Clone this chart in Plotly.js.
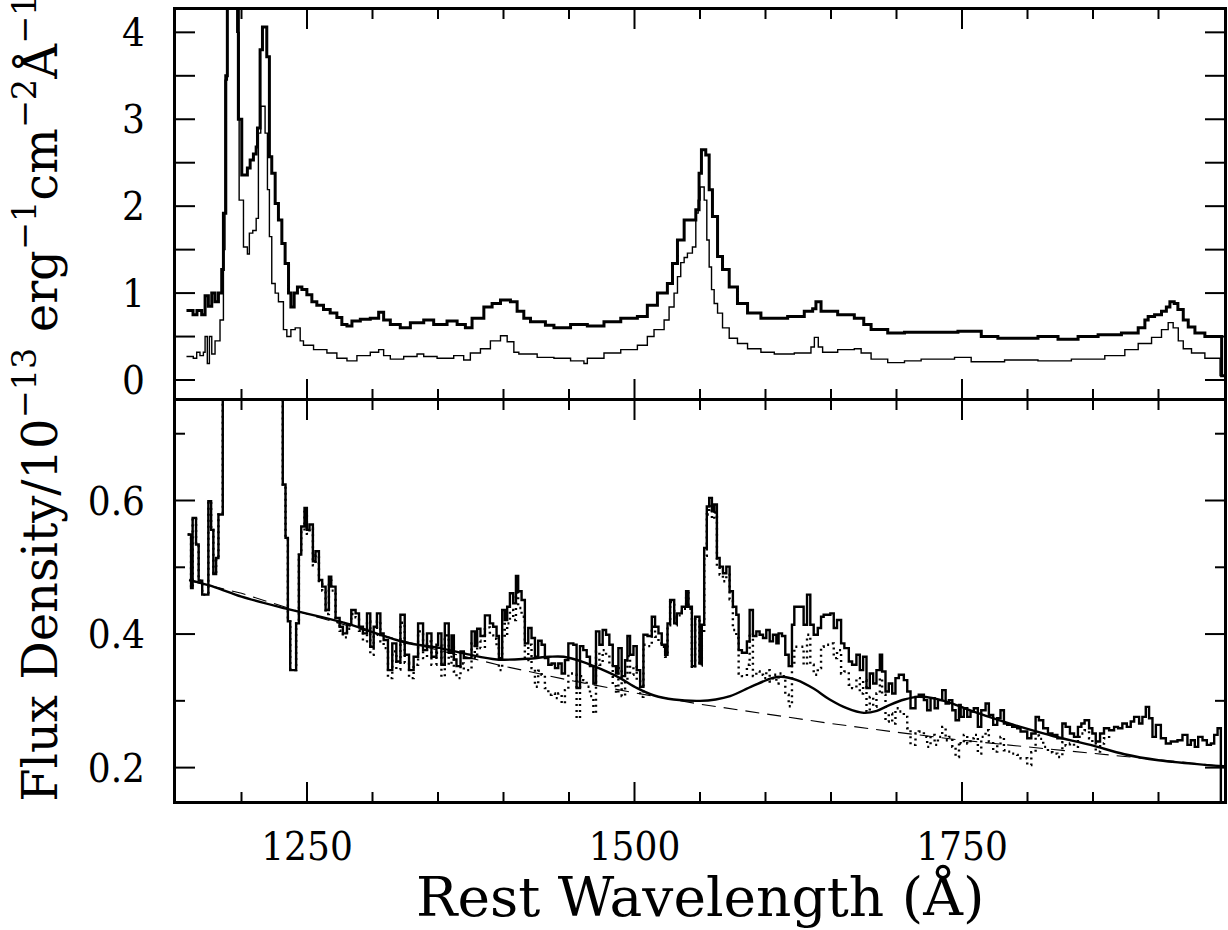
<!DOCTYPE html>
<html><head><meta charset="utf-8">
<script src="https://cdn.plot.ly/plotly-3.0.1.min.js"></script>
<style>body{margin:0;background:#fff}#plot{width:1228px;height:930px}</style>
</head><body><div id="plot"></div>
<script>
// ---- Top panel: total spectrum (thick) ----
const lamTopA = [1158,1163,1166,1169.6,1172.2,1174.7,1177.3,1179.8,1182.4,1184.9,1186.2,1188,1189.2,1197.6,1200.2,1204.5,1206.6,1209.1,1211.2,1212.2,1214.2,1216,1219.3,1221.3,1223.1,1225.7,1228.2,1230.8,1233.3,1235.9,1237.7,1240.2,1242.7,1246.1,1249.9,1253.7,1257.5,1262.6,1267.7,1272.8,1276.6,1280.5,1284.3,1290.7,1298.3,1304.7,1308.5,1313.6,1321.2,1328.9,1339.1,1346.7,1356.9,1364.6,1370.9,1376,1385,1391.3,1397.7,1405.3,1410.4,1415.5,1420.6,1432,1438.5,1451.2,1464,1476.7,1489.5,1502.2,1509.8,1517.5,1525.1,1529,1532.8,1537.9,1543,1546.8,1549.3,1551.1,1554.4,1557,1559.5,1563.4,1567.2,1572.3,1578.6,1586.3,1596.5,1606.7,1616.9,1629.6,1636,1638.5,1642.4,1655.1,1667.8,1675,1680.6,1693.3,1706.1,1731.6,1746.9,1764.7,1777.4,1795.3,1808,1823.3,1838.6,1853.9,1871.7,1884.5,1889.6,1892.1,1897,1902.3,1906,1908.7,1912,1914.8,1918.9,1922.7,1927.8,1935.4,1948.2,1952];
const fluxTopA = [0.80,0.75,0.80,0.75,0.97,0.85,1.00,0.90,1.00,1.27,1.92,3.5,5.0,3.0,2.36,2.44,2.53,2.60,2.68,2.90,3.80,4.06,3.72,2.57,2.38,2.03,1.84,1.57,1.34,1.00,0.84,1.00,1.07,1.04,0.98,0.90,0.86,0.81,0.77,0.72,0.64,0.62,0.68,0.70,0.71,0.78,0.69,0.64,0.60,0.66,0.69,0.64,0.68,0.64,0.60,0.71,0.84,0.88,0.92,0.90,0.79,0.71,0.67,0.63,0.60,0.64,0.62,0.67,0.71,0.73,0.86,1.00,1.11,1.34,1.61,1.84,1.84,1.96,2.38,2.65,2.59,2.19,1.88,1.42,1.27,1.07,0.88,0.77,0.71,0.71,0.73,0.79,0.82,0.90,0.79,0.75,0.71,0.64,0.58,0.54,0.55,0.55,0.56,0.50,0.48,0.48,0.50,0.47,0.50,0.52,0.54,0.60,0.69,0.73,0.75,0.79,0.84,0.90,0.88,0.81,0.69,0.61,0.54,0.50,0.05,0.05];

// ---- Top panel: second spectrum (thin) ----
const lamTopB = [1158,1163.2,1165.8,1168.3,1170.9,1172.2,1173.9,1175.5,1177.3,1179.8,1183.6,1186.2,1187.4,1189.2,1196.4,1198.2,1201.5,1204.5,1206,1208.6,1211.2,1212.9,1214.7,1218,1219.8,1221.3,1223.1,1225.7,1228.2,1232,1234.6,1237.7,1241,1244.8,1247.3,1255,1265.2,1272.8,1280.5,1288.1,1298.3,1304.7,1308.5,1313.6,1323.8,1334,1339.1,1349.3,1362,1369.6,1374.7,1382.4,1390,1397.7,1402.8,1407.9,1411.7,1425.7,1438.5,1451.2,1461.4,1464,1476.7,1489.5,1502.2,1509.8,1514.9,1522.6,1526.4,1530.2,1532.8,1535.3,1537.9,1540.4,1544.2,1546.8,1548.6,1550.1,1553.2,1555.2,1557,1558.8,1560.8,1563.4,1567.2,1572.3,1578.6,1586.3,1596.5,1606.7,1622,1634.7,1637.3,1640.3,1643.6,1655.1,1667.8,1673,1680.6,1693.3,1706.1,1718.8,1744.3,1757,1782.5,1808,1833.5,1859,1874.3,1884.5,1894.7,1902.3,1907.4,1911.2,1915.1,1918.9,1925.2,1935.4,1947,1952];
const fluxTopB = [0.27,0.25,0.32,0.28,0.32,0.50,0.19,0.50,0.30,0.45,0.69,1.5,3.45,5.0,4.0,2.07,1.53,1.45,1.69,1.72,1.86,2.84,3.15,2.84,2.19,1.65,1.11,1.00,0.90,0.58,0.50,0.58,0.60,0.45,0.40,0.35,0.31,0.25,0.22,0.28,0.32,0.35,0.28,0.24,0.27,0.30,0.27,0.25,0.28,0.23,0.31,0.36,0.45,0.51,0.44,0.32,0.30,0.26,0.25,0.22,0.19,0.25,0.31,0.35,0.40,0.50,0.58,0.69,0.84,1.00,1.19,1.35,1.41,1.46,1.53,1.92,2.07,2.22,2.07,1.61,1.30,1.04,0.88,0.77,0.60,0.48,0.42,0.36,0.32,0.30,0.31,0.38,0.49,0.38,0.32,0.35,0.36,0.31,0.24,0.20,0.22,0.24,0.26,0.21,0.23,0.22,0.24,0.28,0.35,0.42,0.49,0.58,0.66,0.60,0.45,0.36,0.31,0.25,0.05,0.05];

// ---- Bottom panel: residual spectrum (solid histogram) ----
const lamBot = [1158.9,1161.5,1162.7,1165.3,1167.3,1170.0,1174.7,1176.8,1178.5,1180.6,1182.4,1185.7,1231.5,1233.6,1235.4,1237.2,1241.7,1243.8,1245.6,1248.1,1249.9,1251.9,1254.5,1256.5,1259.1,1261.6,1264.2,1266.7,1268.5,1271.8,1274.9,1277.4,1280.5,1283.8,1287.1,1289.7,1292.7,1295.8,1298.3,1300.9,1303.4,1306.0,1308.5,1311.8,1315.1,1318.2,1321.3,1324.6,1327.9,1331.4,1334.8,1338.6,1341.6,1345.0,1348.8,1350.1,1352.6,1355.2,1358.2,1360.3,1362.1,1364.1,1367.2,1369.7,1375.6,1378.1,1379.9,1382.4,1385.8,1389.6,1392.1,1394.7,1396.5,1399.0,1401.0,1402.8,1404.9,1407.4,1409.5,1411.2,1413.8,1416.3,1418.9,1421.4,1424.0,1426.5,1429.1,1431.6,1434.2,1436.7,1439.3,1441.8,1444.4,1446.9,1449.5,1453.3,1455.8,1458.4,1460.9,1463.5,1466.0,1468.6,1470.6,1473.2,1475.7,1478.3,1480.8,1483.4,1485.9,1487.7,1490.2,1492.8,1494.6,1496.6,1499.2,1501.7,1504.3,1506.8,1509.9,1513.2,1515.7,1518.3,1520.8,1523.4,1525.2,1527.2,1530.3,1532.3,1536.1,1539.4,1541.2,1543.8,1546.3,1549.6,1551.4,1553.2,1555.2,1557.0,1559.1,1560.9,1562.9,1565.0,1567.5,1570.1,1572.6,1575.1,1577.7,1579.5,1582.0,1585.8,1587.9,1590.4,1593.0,1595.5,1598.1,1600.6,1603.2,1605.7,1608.3,1610.0,1612.6,1615.1,1617.7,1620.2,1622.0,1629.1,1631.7,1634.2,1636.8,1639.9,1642.4,1644.4,1649.5,1652.1,1654.6,1657.7,1660.2,1663.6,1666.1,1669.4,1672.0,1674.5,1677.1,1679.6,1682.2,1684.7,1687.3,1689.0,1691.6,1694.1,1696.7,1699.2,1701.8,1705.6,1708.2,1710.7,1714.5,1717.0,1720.9,1723.4,1726.0,1729.1,1731.6,1734.9,1737.5,1740.0,1742.6,1745.1,1747.7,1749.0,1751.4,1754.0,1756.5,1759.0,1762.1,1764.7,1768.0,1770.5,1773.8,1776.9,1779.4,1782.0,1784.5,1788.3,1792.1,1794.7,1799.8,1802.9,1806.2,1808.7,1812.0,1815.6,1819.0,1822.8,1826.6,1829.1,1832.4,1835.5,1838.5,1841.1,1843.6,1847.0,1849.5,1852.1,1855.4,1858.4,1862.3,1866.1,1869.1,1872.4,1875.8,1878.8,1881.4,1885.2,1887.7,1890.3,1892.8,1895.4,1898.0,1901.8,1905.6,1909.4,1914.5,1918.3,1922.1,1924.7,1927.7,1930.3,1933.6,1936.9,1940.0,1942.5,1945.1,1947.6,1952];
const fluxBot = [0.549,0.469,0.574,0.534,0.480,0.459,0.599,0.556,0.490,0.514,0.579,2.0,0.624,0.544,0.419,0.346,0.416,0.519,0.561,0.589,0.556,0.564,0.509,0.524,0.481,0.471,0.436,0.486,0.471,0.424,0.411,0.401,0.414,0.436,0.431,0.411,0.401,0.431,0.381,0.411,0.431,0.401,0.391,0.346,0.386,0.359,0.429,0.369,0.346,0.366,0.416,0.376,0.401,0.366,0.384,0.401,0.354,0.416,0.372,0.398,0.362,0.352,0.374,0.364,0.404,0.382,0.408,0.397,0.428,0.416,0.411,0.397,0.364,0.436,0.421,0.441,0.461,0.446,0.487,0.464,0.451,0.386,0.409,0.394,0.366,0.390,0.384,0.364,0.354,0.356,0.349,0.356,0.341,0.361,0.386,0.384,0.319,0.382,0.376,0.366,0.352,0.326,0.404,0.384,0.406,0.399,0.384,0.352,0.341,0.379,0.337,0.361,0.397,0.369,0.382,0.346,0.321,0.399,0.397,0.426,0.411,0.401,0.384,0.369,0.416,0.451,0.416,0.431,0.441,0.464,0.441,0.352,0.426,0.356,0.414,0.529,0.591,0.604,0.584,0.594,0.514,0.501,0.491,0.501,0.464,0.441,0.429,0.376,0.372,0.389,0.436,0.397,0.404,0.399,0.394,0.406,0.389,0.399,0.386,0.401,0.397,0.369,0.352,0.414,0.441,0.414,0.459,0.414,0.399,0.409,0.426,0.429,0.431,0.409,0.421,0.386,0.379,0.359,0.354,0.369,0.346,0.366,0.319,0.341,0.326,0.346,0.369,0.344,0.314,0.326,0.311,0.334,0.339,0.331,0.314,0.289,0.306,0.309,0.301,0.286,0.304,0.289,0.301,0.316,0.296,0.301,0.286,0.271,0.294,0.276,0.289,0.276,0.284,0.289,0.261,0.286,0.296,0.279,0.264,0.274,0.286,0.266,0.264,0.261,0.259,0.254,0.244,0.251,0.276,0.271,0.259,0.251,0.249,0.244,0.266,0.261,0.251,0.246,0.261,0.266,0.271,0.259,0.251,0.239,0.251,0.259,0.256,0.261,0.259,0.266,0.261,0.269,0.276,0.266,0.276,0.291,0.274,0.246,0.264,0.244,0.236,0.239,0.241,0.249,0.234,0.241,0.231,0.246,0.241,0.234,0.236,0.249,0.259,0.05,0.05];

// ---- Bottom panel: residual minus Fe model (dotted histogram), same bins ----
const dotBot = [0.549,0.469,0.574,0.534,0.480,0.459,0.599,0.556,0.490,0.514,0.579,2.0,0.624,0.544,0.419,0.346,0.416,0.519,0.555,0.583,0.550,0.558,0.503,0.518,0.475,0.465,0.430,0.480,0.465,0.418,0.405,0.395,0.408,0.430,0.425,0.405,0.389,0.419,0.369,0.399,0.419,0.389,0.379,0.334,0.374,0.347,0.417,0.357,0.334,0.354,0.404,0.364,0.389,0.354,0.372,0.383,0.336,0.398,0.354,0.380,0.344,0.334,0.356,0.346,0.386,0.364,0.390,0.379,0.410,0.398,0.393,0.379,0.346,0.418,0.396,0.416,0.436,0.421,0.462,0.439,0.426,0.361,0.384,0.349,0.321,0.345,0.339,0.319,0.309,0.311,0.304,0.311,0.296,0.316,0.341,0.339,0.274,0.337,0.331,0.321,0.307,0.281,0.374,0.354,0.376,0.369,0.354,0.322,0.311,0.349,0.307,0.331,0.367,0.339,0.352,0.331,0.306,0.384,0.382,0.411,0.396,0.386,0.381,0.366,0.413,0.448,0.413,0.428,0.438,0.461,0.438,0.349,0.423,0.353,0.402,0.517,0.579,0.592,0.572,0.582,0.502,0.489,0.479,0.489,0.452,0.406,0.394,0.341,0.337,0.354,0.401,0.337,0.344,0.339,0.334,0.346,0.329,0.339,0.326,0.341,0.337,0.309,0.292,0.354,0.381,0.354,0.399,0.354,0.339,0.349,0.381,0.384,0.386,0.364,0.376,0.341,0.344,0.324,0.319,0.334,0.311,0.331,0.284,0.306,0.291,0.311,0.334,0.309,0.269,0.281,0.266,0.289,0.284,0.276,0.259,0.234,0.251,0.254,0.246,0.231,0.249,0.234,0.246,0.261,0.241,0.246,0.231,0.216,0.239,0.236,0.249,0.236,0.244,0.249,0.221,0.246,0.256,0.239,0.224,0.234,0.246,0.226,0.224,0.221,0.219,0.214,0.204,0.223,0.248,0.243,0.231,0.223,0.221,0.216,0.238,0.233,0.236,0.231,0.246,0.251,0.256,0.244,0.236,0.224,0.236,0.244,0.253];

// ---- Bottom panel: Fe template + continuum model (smooth) ----
const modelLam = [1160,1180,1200,1234,1278,1326,1349,1372,1395,1418,1435,1446,1461,1475,1489,1502,1515,1530,1550,1562,1573,1590,1605,1612,1624,1637,1649,1662,1675,1685,1695,1706,1716,1728,1741,1760,1780,1798,1820,1848,1874,1900,1925,1950];
const modelVal = [0.481,0.470,0.456,0.438,0.417,0.387,0.380,0.370,0.362,0.363,0.366,0.366,0.358,0.347,0.334,0.319,0.308,0.302,0.300,0.302,0.307,0.322,0.334,0.336,0.331,0.318,0.302,0.289,0.282,0.285,0.294,0.302,0.306,0.304,0.297,0.283,0.270,0.259,0.247,0.234,0.220,0.211,0.206,0.202];

// ---- Bottom panel: power-law continuum (dashed) ----
const contLam = [1160,1200,1250,1300,1350,1400,1450,1500,1550,1600,1650,1700,1750,1800,1850,1900,1950];
const contVal = [0.480,0.461,0.430,0.402,0.376,0.352,0.331,0.312,0.295,0.280,0.266,0.253,0.241,0.231,0.221,0.211,0.202];

// ---- Axis ranges and tick values ----
const xRange = [1150, 1950];
const topRange = [-0.207, 4.257];
const botRange = [0.15, 0.749];
const xMajor = [1250,1500,1750];
const xMinor = [1200,1300,1350,1400,1450,1550,1600,1650,1700,1800,1850,1900];
const topTicks = [0,0.5,1,1.5,2,2.5,3,3.5,4];
const topTickText = ['0','','1','','2','','3','','4'];
const botMajor = [0.2,0.4,0.6];
const botMinor = [0.3,0.5,0.7];

const TICKFONT = 'DejaVu Serif Condensed, DejaVu Serif, serif';
const TITLEFONT = 'DejaVu Serif, serif';

// plot area: y 10..801 px (791 px); the two panels meet at ~400 px
const botTop = 400/791, topBot = 403/791;
const plotW = 1048, topH = 388, botH = 400;
const LONG = 19, SHORT = 9;   // tick lengths in px

const traces = [
  {x: lamTopA, y: fluxTopA, xaxis:'x', yaxis:'y', mode:'lines', line:{shape:'hv', color:'#000', width:3}},
  {x: lamTopB, y: fluxTopB, xaxis:'x', yaxis:'y', mode:'lines', line:{shape:'hv', color:'#000', width:1.4}},
  {x: lamBot.slice(0, dotBot.length), y: dotBot, xaxis:'x2', yaxis:'y2', mode:'lines', line:{shape:'hv', color:'#000', width:2.4, dash:'2px,4px'}},
  {x: lamBot, y: fluxBot, xaxis:'x2', yaxis:'y2', mode:'lines', line:{shape:'hv', color:'#000', width:2.4}},
  {x: contLam, y: contVal, xaxis:'x2', yaxis:'y2', mode:'lines', line:{color:'#000', width:1.1, dash:'14px,8px'}},
  {x: modelLam, y: modelVal, xaxis:'x2', yaxis:'y2', mode:'lines', line:{shape:'spline', color:'#000', width:2.4}}
];

// inside tick marks on all four sides of each panel, drawn as line segments on the panel's own axes
function tickTrace(xa, ya, yr, h, yMaj, yMin){
  const xs = [], ys = [];
  const dx = (xRange[1]-xRange[0]) / plotW, dy = (yr[1]-yr[0]) / h;
  const addX = (v, len) => { xs.push(v, v, null, v, v, null); ys.push(yr[0], yr[0]+len*dy, null, yr[1], yr[1]-len*dy, null); };
  const addY = (v, len) => { ys.push(v, v, null, v, v, null); xs.push(xRange[0], xRange[0]+len*dx, null, xRange[1], xRange[1]-len*dx, null); };
  xMajor.forEach(v => addX(v, LONG)); xMinor.forEach(v => addX(v, SHORT));
  yMaj.forEach(v => addY(v, LONG)); yMin.forEach(v => addY(v, SHORT));
  return {x: xs, y: ys, xaxis: xa, yaxis: ya, mode:'lines', connectgaps:false, hoverinfo:'skip',
          line:{color:'#000', width:2}};
}
traces.push(tickTrace('x', 'y', topRange, topH, topTicks, []));
traces.push(tickTrace('x2', 'y2', botRange, botH, botMajor, botMinor));

function xAxis(anchor, labels){
  return {range:xRange, anchor:anchor, showline:true, linewidth:3, linecolor:'#000', mirror:true,
    ticks:'', tickmode:'array', tickvals:xMajor, showticklabels:labels, ticklabelstandoff:8,
    showgrid:false, zeroline:false, fixedrange:true};
}
const layout = {
  width:1228, height:930, paper_bgcolor:'#fff', plot_bgcolor:'rgba(0,0,0,0)', showlegend:false,
  margin:{l:176, r:4, t:10, b:129},
  font:{family:TICKFONT, color:'#000', size:40},
  xaxis: xAxis('y', false),
  xaxis2: xAxis('y2', true),
  yaxis: {domain:[topBot,1], range:topRange, anchor:'x', showline:true, linewidth:3, linecolor:'#000',
          mirror:true, ticks:'', tickmode:'array', tickvals:topTicks, ticktext:topTickText, ticklabelstandoff:20,
          showgrid:false, zeroline:false, fixedrange:true},
  yaxis2: {domain:[0,botTop], range:botRange, anchor:'x2', showline:true, linewidth:3, linecolor:'#000',
          mirror:true, ticks:'', tickmode:'array', tickvals:botMajor, tickformat:'.1f', ticklabelstandoff:20,
          showgrid:false, zeroline:false, fixedrange:true},
  annotations:[
    {text:'Rest Wavelength (Å)', xref:'paper', yref:'paper', x:0.5, y:-0.121, xanchor:'center', yanchor:'middle',
     showarrow:false, font:{family:TITLEFONT, size:55, color:'#000'}},
    {text:'Flux Density/10<sup>−13</sup> erg<sup>−1</sup>cm<sup>−2</sup>Å<sup>−1</sup>', xref:'paper', yref:'paper',
     x:-0.1335, y:-0.004, xanchor:'center', yanchor:'bottom', textangle:-90,
     showarrow:false, font:{family:TITLEFONT, size:48, color:'#000'}}
  ]
};
Plotly.newPlot('plot', traces, layout, {staticPlot:true});
</script>
</body></html>
